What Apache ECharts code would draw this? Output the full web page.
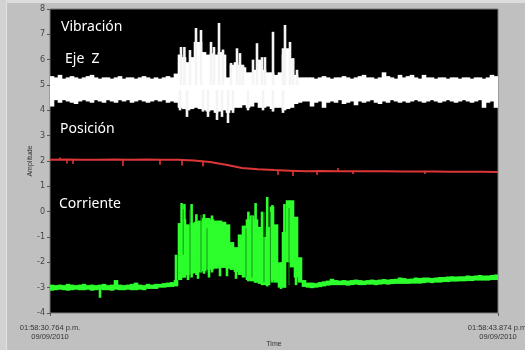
<!DOCTYPE html>
<html>
<head>
<meta charset="utf-8">
<script src="https://cdn.jsdelivr.net/npm/echarts@6/dist/echarts.min.js"></script>
<style>
html,body{margin:0;padding:0;background:#c0c0c0;}
#chart{width:525px;height:350px;}
</style>
</head>
<body>
<div id="chart"></div>
<script>
// ---- x axis: 112 equal time columns between the two timestamps ----
const xTickLabels = ['01:58:30.764 p.m.\n09/09/2010', '01:58:43.874 p.m.\n09/09/2010'];
const seriesLabels = ['Vibración', 'Eje  Z', 'Posición', 'Corriente'];

// ---- Vibración Eje Z (white): per-column envelope ----
const wHi = [5.35,5.3,5.4,5.25,5.3,5.35,5.3,5.25,5.3,5.35,5.4,5.3,5.25,5.3,5.3,5.25,5.3,5.35,5.25,5.3,5.3,5.25,5.3,5.35,5.3,5.25,5.3,5.25,5.3,5.35,5.3,5.45,
  6.2,6.1,5.9,6.1,6.7,6.7,6.3,6.2,6.25,6.2,6.3,6.2,5.3,5.8,5.9,5.8,5.7,5.5,5.5,5.6,6.0,5.6,5.5,5.5,5.4,5.5,6.2,6.45,6.05,5.4,5.3,5.3,5.3,
  5.3,5.25,5.3,5.35,5.3,5.25,5.3,5.3,5.35,5.3,5.25,5.3,5.35,5.4,5.3,5.3,5.25,5.3,5.5,5.35,5.3,5.25,5.4,5.3,5.35,5.4,5.3,5.25,5.4,5.3,5.3,5.25,5.3,5.3,5.25,5.3,5.3,5.25,5.3,5.3,5.25,5.3,5.3,5.25,5.3,5.4,5.35];
const wLo = [4.15,4.4,4.3,4.4,4.35,4.3,4.25,4.35,4.4,4.35,4.3,4.4,4.35,4.3,4.4,4.35,4.3,4.4,4.35,4.4,4.3,4.35,4.4,4.35,4.3,4.35,4.4,4.35,4.4,4.3,4.35,4.3,
  4.1,4.05,4.0,4.05,4.1,4.05,4.0,3.95,4.0,3.9,3.95,4.0,3.9,4.0,4.1,4.1,4.2,4.1,4.15,4.3,4.1,4.1,4.15,4.05,4.1,4.1,4.0,4.05,4.1,4.25,4.3,4.35,4.35,
  4.15,4.3,4.35,4.1,4.3,4.35,4.3,4.4,4.25,4.3,4.35,4.2,4.35,4.3,4.35,4.4,4.3,4.25,4.35,4.3,4.4,4.35,4.3,4.35,4.3,4.35,4.4,4.35,4.3,4.35,4.4,4.35,4.3,4.35,4.4,4.35,4.3,4.35,4.4,4.35,4.3,4.35,4.4,4.1,4.3,4.35,4.1];
// narrow spikes of the white trace
const wSpikeX    = [32.75,33.6,35,36.5,37.75,40.25,41,42.25,43.25,45.25,46.75,47.5,48.25,50.75,51.75,53,53.75,55.75,58.25,58.75,60,60.75,61.75,
                    32.5,34.25,38.25,39.5,41.75,43,44.5,45.75,49.5,53.25,55.75,58.25];
const wSpikeFrom = [5.0,5.0,5.0,5.0,5.0,5.0,5.0,5.0,5.0,5.0,5.0,5.0,5.0,5.0,5.0,5.0,5.0,5.0,5.0,5.0,5.0,5.0,5.0,
                    4.8,4.8,4.8,4.8,4.8,4.8,4.8,4.8,4.8,4.8,4.8,4.8];
const wSpikeTo   = [6.5,6.5,6.38,7.25,7.17,6.7,6.5,7.45,6.4,5.87,6.45,6.26,5.8,6.0,6.65,6.1,6.1,7.1,6.45,7.37,6.7,6.06,5.6,
                    4.0,3.74,3.95,3.74,3.62,3.74,3.5,3.9,4.0,4.0,3.95,3.9];

// ---- Posición (red) ----
const redX = [0,4,8,12,16,20,24,28,32,36,40,44,48,52,56,60,64,68,72,76,80,84,88,92,96,100,104,108,112];
const redY = [2.05,2.06,2.05,2.05,2.06,2.05,2.06,2.05,2.05,2.02,1.96,1.85,1.72,1.67,1.64,1.62,1.6,1.61,1.6,1.6,1.6,1.6,1.59,1.59,1.59,1.58,1.58,1.58,1.57];
const rSpikeX    = [2.5,4.25,5.75,18.25,27.5,33,38.25,57,60.75,66.75,72,75.75,93.75];
const rSpikeFrom = [2.05,2.05,2.05,2.05,2.05,2.05,1.99,1.64,1.62,1.6,1.6,1.6,1.59];
const rSpikeTo   = [2.14,1.9,1.88,1.8,1.85,1.82,1.78,1.45,1.41,1.45,1.72,1.49,1.49];

// ---- Corriente (green) ----
const gHi = [-2.88,-2.9,-2.88,-2.9,-2.85,-2.88,-2.9,-2.88,-2.85,-2.9,-2.88,-2.9,-2.88,-2.85,-2.9,-2.88,-2.7,-2.88,-2.9,-2.88,-2.85,-2.8,-2.88,-2.9,-2.85,-2.88,-2.85,-2.85,-2.82,-2.8,-2.78,-2.7,
  -0.45,-0.3,-0.5,-0.45,-0.4,-0.35,-0.25,-0.25,-0.3,-0.35,-0.35,-0.4,-0.5,-1.2,-1.4,-0.9,-0.55,-0.3,-0.15,-0.3,-0.6,-1.0,-0.6,0.2,-0.5,-2.0,-0.8,0.45,0.45,-0.2,-1.8,-2.7,
  -2.8,-2.8,-2.82,-2.78,-2.75,-2.72,-2.65,-2.7,-2.72,-2.7,-2.72,-2.7,-2.68,-2.7,-2.72,-2.7,-2.68,-2.7,-2.68,-2.66,-2.68,-2.66,-2.65,-2.6,-2.62,-2.65,-2.64,-2.6,-2.62,-2.6,-2.6,-2.62,-2.6,-2.58,-2.58,-2.56,-2.55,-2.56,-2.55,-2.55,-2.52,-2.54,-2.52,-2.5,-2.52,-2.52,-2.5,-2.48];
const gLo = [-3.12,-3.1,-3.08,-3.1,-3.12,-3.1,-3.08,-3.1,-3.1,-3.08,-3.12,-3.1,-3.08,-3.1,-3.1,-3.12,-3.08,-3.1,-3.1,-3.08,-3.1,-3.1,-3.08,-3.1,-3.05,-3.05,-3.05,-3.0,-3.0,-2.98,-2.97,-2.95,
  -2.7,-2.6,-2.5,-2.45,-2.42,-2.4,-2.35,-2.3,-2.28,-2.25,-2.22,-2.22,-2.25,-2.3,-2.38,-2.5,-2.6,-2.7,-2.75,-2.8,-2.85,-2.9,-2.9,-2.7,-2.8,-3.0,-3.0,-2.0,-2.2,-2.6,-2.8,-2.97,
  -3.0,-3.02,-3.0,-2.98,-2.95,-2.92,-2.9,-2.9,-2.9,-2.9,-2.92,-2.9,-2.88,-2.9,-2.9,-2.88,-2.88,-2.9,-2.88,-2.86,-2.88,-2.86,-2.85,-2.85,-2.85,-2.85,-2.84,-2.84,-2.84,-2.82,-2.8,-2.82,-2.8,-2.8,-2.78,-2.78,-2.76,-2.76,-2.75,-2.75,-2.74,-2.74,-2.72,-2.72,-2.72,-2.72,-2.7,-2.7];
const gSpikeX    = [12.5,31.5,32.9,33.6,35.4,36.6,38.5,40.5,49.6,51.4,53.0,54.3,55.6,57.75,58.6,61.5,
                    34.5,37,39.75,42.5,44.25,46.5];
const gSpikeFrom = [-3.0,-2.9,-2.6,-2.6,-2.6,-2.5,-2.45,-2.4,-2.75,-2.8,-2.9,-2.95,-2.8,-3.05,-3.0,-2.9,
                    -2.0,-2.0,-2.0,-2.0,-2.0,-2.0];
const gSpikeTo   = [-3.4,-1.7,0.34,0.3,0.3,-0.1,-0.1,-0.15,0.0,0.34,0.0,0.58,0.26,-2.0,0.3,-0.3,
                    -2.7,-2.65,-2.6,-2.55,-2.55,-2.65];
const gDarkX    = [33.3,35.0,37.75,39.25,49.0,50.5,53.5,55.1,59.75];
const gDarkFrom = [-1.7,-2.6,-2.4,-2.4,-2.6,-2.6,-2.8,-2.8,-2.9];
const gDarkTo   = [0.1,0.1,-0.13,-0.65,-0.65,-0.13,0.0,0.0,0.14];

const NCOL = wHi.length;

function bandData(lo, hi) { return hi.map((h, i) => [i, lo[i], h]); }
function spikeData(xs, from, to) { return xs.map((x, i) => [x, from[i], to[i]]); }

function bandItem(fill) {
  return function (params, api) {
    const x = api.value(0), lo = api.value(1), hi = api.value(2);
    const a = api.coord([x, hi]);
    const b = api.coord([x + 1, lo]);
    return { type: 'rect', shape: { x: a[0] - 0.3, y: a[1], width: b[0] - a[0] + 0.6, height: b[1] - a[1] }, style: { fill: fill } };
  };
}
function spikeItem(fill, w) {
  return function (params, api) {
    const x = api.value(0), f = api.value(1), t = api.value(2);
    const a = api.coord([x, Math.max(f, t)]);
    const b = api.coord([x, Math.min(f, t)]);
    return { type: 'rect', shape: { x: a[0] - w / 2, y: a[1], width: w, height: b[1] - a[1] }, style: { fill: fill } };
  };
}

const chart = echarts.init(document.getElementById('chart'), null, { renderer: 'canvas' });
function label(text, left, top) {
  return { type: 'text', left: left, top: top, z: 100,
    style: { text: text, fill: '#ffffff', fontSize: 14, fontFamily: 'Noto Sans' } };
}
chart.setOption({
  animation: false,
  backgroundColor: '#c0c0c0',
  grid: { left: 50, right: 27, top: 9, bottom: 37, outerBoundsMode: 'none', containLabel: false,
    show: true, backgroundColor: '#000000', borderColor: '#7a7a7a', borderWidth: 1 },
  xAxis: {
    type: 'value', min: 0, max: NCOL, interval: NCOL, position: 'bottom',
    name: 'Time', nameLocation: 'middle', nameGap: 28, nameMoveOverlap: false,
    nameTextStyle: { fontSize: 7, color: '#333', fontFamily: 'Liberation Sans', verticalAlign: 'top' },
    axisLine: { show: false, onZero: false },
    axisTick: { show: true, length: 3, lineStyle: { color: '#555' } },
    splitLine: { show: false },
    axisLabel: { fontSize: 7.5, color: '#333', lineHeight: 9, margin: 10, fontFamily: 'Liberation Sans',
      formatter: v => (v === 0 ? xTickLabels[0] : xTickLabels[1]) }
  },
  yAxis: {
    type: 'value', min: -4, max: 8, interval: 1, position: 'left',
    name: 'Amplitude', nameLocation: 'middle', nameGap: 16, nameMoveOverlap: false,
    nameTextStyle: { fontSize: 7, color: '#333', fontFamily: 'Liberation Sans' },
    axisLine: { show: false, onZero: false },
    axisTick: { show: true, length: 3, lineStyle: { color: '#555' } },
    splitLine: { show: false },
    axisLabel: { fontSize: 8, color: '#444', margin: 5, fontFamily: 'DejaVu Sans' }
  },
  graphic: [
    { type: 'rect', left: 0, top: 0, shape: { width: 525, height: 3 }, style: { fill: '#dcdcdc' }, z: -1 },
    { type: 'rect', left: 0, top: 0, shape: { width: 6, height: 350 }, style: { fill: '#d2d2d2' }, z: -1 },
    { type: 'rect', left: 6, top: 3, shape: { width: 1, height: 347 }, style: { fill: '#e4e4e4' }, z: -1 },
    label(seriesLabels[0], 61, 20),
    label(seriesLabels[1], 65, 52),
    label(seriesLabels[2], 60, 122),
    label(seriesLabels[3], 59, 197)
  ],
  series: [
    { type: 'custom', name: 'wband', clip: true, renderItem: bandItem('#ffffff'), encode: { x: 0, y: [1, 2] }, data: bandData(wLo, wHi), z: 2 },
    { type: 'custom', name: 'wspike', clip: true, renderItem: spikeItem('#f4f4f4', 2.6), encode: { x: 0, y: [1, 2] }, data: spikeData(wSpikeX, wSpikeFrom, wSpikeTo), z: 3 },
    { type: 'line', name: 'red', data: redX.map((x, i) => [x, redY[i]]), showSymbol: false, lineStyle: { color: '#dc3636', width: 2 }, z: 4 },
    { type: 'custom', name: 'rspike', clip: true, renderItem: spikeItem('#dc3636', 1.6), encode: { x: 0, y: [1, 2] }, data: spikeData(rSpikeX, rSpikeFrom, rSpikeTo), z: 4 },
    { type: 'custom', name: 'gband', clip: true, renderItem: bandItem('#2cff2c'), encode: { x: 0, y: [1, 2] }, data: bandData(gLo, gHi), z: 5 },
    { type: 'custom', name: 'gspike', clip: true, renderItem: spikeItem('#2cff2c', 2.6), encode: { x: 0, y: [1, 2] }, data: spikeData(gSpikeX, gSpikeFrom, gSpikeTo), z: 6 },
    { type: 'custom', name: 'gdark', clip: true, renderItem: spikeItem('#139a13', 1.0), encode: { x: 0, y: [1, 2] }, data: spikeData(gDarkX, gDarkFrom, gDarkTo), z: 7 }
  ]
});
</script>
</body>
</html>
